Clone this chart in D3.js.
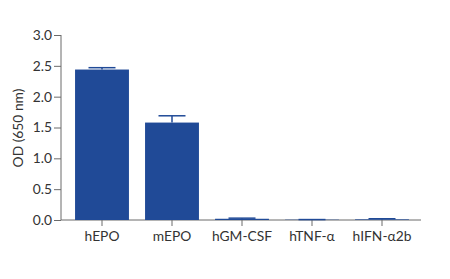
<!DOCTYPE html>
<html><head><meta charset="utf-8">
<script src="https://cdn.jsdelivr.net/npm/d3@7"></script>
<style>body{margin:0;background:#fff}svg{display:block}</style>
</head><body>
<script>
const categories = ["hEPO","mEPO","hGM-CSF","hTNF-α","hIFN-α2b"];
const values = [2.44, 1.58, 0.02, 0.005, 0.01];
const errors = [0.03, 0.11, 0.01, 0.002, 0.01];
const yTicks = [0,0.5,1.0,1.5,2.0,2.5,3.0];

const W=450,H=279;
const svg=d3.select("body").append("svg").attr("width",W).attr("height",H);
const font="Lato, 'Noto Sans', sans-serif";
const fs=13.8;
const x=d3.scaleBand().domain(categories).range([67,417]).paddingInner(0.23).paddingOuter(0.115);
const y=d3.scaleLinear().domain([0,3]).range([220,35]);
const barColor="#204a97";

const gy=svg.append("g").attr("transform","translate(61,0)")
  .call(d3.axisLeft(y).tickValues(yTicks).tickFormat(d3.format(".1f")).tickSize(7).tickPadding(2));
gy.select(".domain").attr("d","M0,35V220").attr("stroke","#6b6b6b");
const gx=svg.append("g").attr("transform","translate(0,220)")
  .call(d3.axisBottom(x).tickSize(6).tickPadding(5).tickSizeOuter(0));
gx.select(".domain").attr("d","M61,0H421").attr("stroke","#6b6b6b");
svg.selectAll(".tick line").attr("stroke","#6b6b6b");
svg.selectAll(".tick text").attr("font-family",font).attr("font-size",fs).attr("fill","#333");

svg.append("g").selectAll("rect").data(categories).join("rect")
  .attr("x",d=>x(d)).attr("width",x.bandwidth())
  .attr("y",(d,i)=>y(values[i])).attr("height",(d,i)=>y(0)-y(values[i]))
  .attr("fill",barColor);

const eb=svg.append("g").attr("stroke",barColor).attr("stroke-width",1.5);
categories.forEach((c,i)=>{
  const cx=x(c)+x.bandwidth()/2, t=y(values[i]+errors[i]);
  eb.append("line").attr("x1",cx).attr("x2",cx).attr("y1",y(values[i])).attr("y2",t);
  eb.append("line").attr("x1",cx-13.5).attr("x2",cx+13.5).attr("y1",t).attr("y2",t);
});

svg.append("text").attr("transform","translate(23,128) rotate(-90)")
  .attr("text-anchor","middle").attr("font-family",font).attr("font-size",fs).attr("fill","#333")
  .text("OD (650 nm)");
</script>
</body></html>
